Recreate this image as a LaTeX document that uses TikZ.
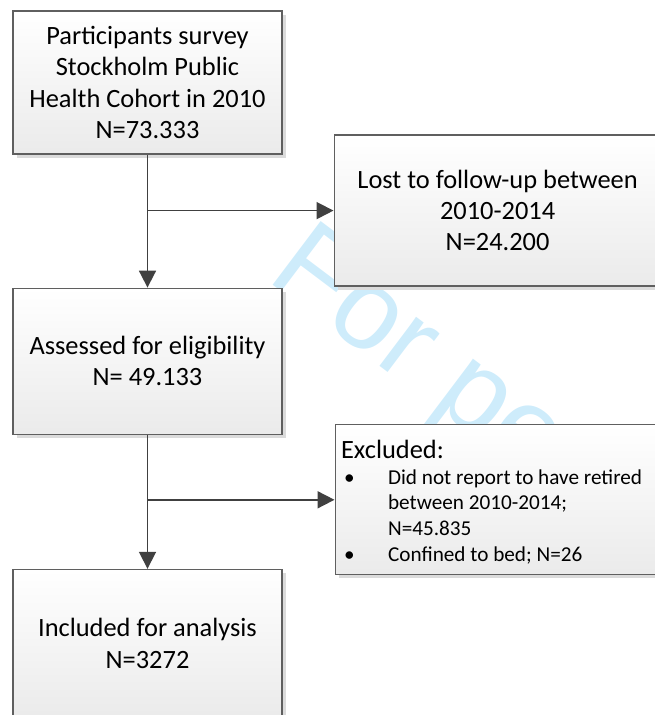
\documentclass[tikz,border=0pt]{standalone}
\usepackage{fontspec}
\setmainfont{Carlito}
\newfontfamily\wmfont{Liberation Sans}
\usepackage{tikz}
\usetikzlibrary{arrows.meta, positioning, shadows, backgrounds}
\definecolor{boxline}{RGB}{95,95,95}
\definecolor{arrowgray}{RGB}{64,64,64}
\definecolor{wmcyan}{RGB}{206,236,251}
\newcommand{\exfont}{\fontsize{10.6pt}{12.85pt}\selectfont\spaceskip=0pt\xspaceskip=0pt}
\tikzset{
    stepbox/.style={rectangle, draw=boxline, line width=0.6pt, top color=white, bottom color=black!8, drop shadow={shadow xshift=1.8pt, shadow yshift=-1.8pt, fill=black!14, opacity=1}, align=center, inner sep=0pt, font=\fontsize{13.2pt}{15.6pt}\selectfont},
    arrow/.style={-{Triangle[length=8.5pt, width=8.5pt]}, line width=0.9pt, draw=arrowgray},
    watermark/.style={text=wmcyan, inner sep=0pt, font=\wmfont\fontsize{58pt}{58pt}\selectfont}
}

\begin{document}
\begin{tikzpicture}
        % --- Page frame (size of the original figure) ---
        \path [use as bounding box] (-73.75pt, 41.25pt) rectangle ++(327pt,-357.5pt);
        
        % --- Main column ---
        \node (part) [stepbox, minimum width=134.5pt, minimum height=71.5pt] at (0,0) {Participants survey\\ Stockholm Public\\ Health Cohort in 2010\\ N=73.333};
        
        \node (assess) [stepbox, below=66.5pt of part, minimum width=134.5pt, minimum height=73pt] {Assessed for eligibility\\ N= 49.133};
        
        \node (incl) [stepbox, below=67pt of assess, minimum width=134.5pt, minimum height=74pt] {Included for analysis\\ N=3272};
        
        % --- Branch points on the main arrows ---
        \coordinate (split1) at ([yshift=-28pt]part.south);
        \coordinate (split2) at ([yshift=-32.5pt]assess.south);
        
        % --- Side boxes ---
        \node (lost) [stepbox, right=93pt of split1, minimum width=163.5pt, minimum height=75.5pt] {Lost to follow-up between\\ 2010-2014\\ N=24.200};
        
        \node (excl) [stepbox, right=93.5pt of split2, minimum height=75pt, text width=157pt, inner xsep=3pt, align=left] {\rule{0pt}{13.9pt}Excluded:\par\vspace{2.8pt}
            {\exfont
            \begin{tabular}{@{\hspace{1.5pt}}p{22pt}@{}l@{}}
                \textbullet & Did not report to have retired\\
                 & between 2010-2014;\\
                 & N=45.835\\
                \textbullet & Confined to bed; N=26
            \end{tabular}\par}};
        
        % --- Arrows ---
        \draw [arrow] (part) -- (assess);
        \draw [arrow] (split1) -- (lost);
        \draw [arrow] (assess) -- (incl);
        \draw [arrow] (split2) -- (excl);
        
        % --- Watermark behind the boxes ---
        \begin{pgfonlayer}{background}
            \node (wm) [watermark, anchor=base west, rotate=-37] at ([xshift=126.5pt, yshift=-134.5pt]part.north west) {For pe};
        \end{pgfonlayer}
    \end{tikzpicture}
\end{document}
